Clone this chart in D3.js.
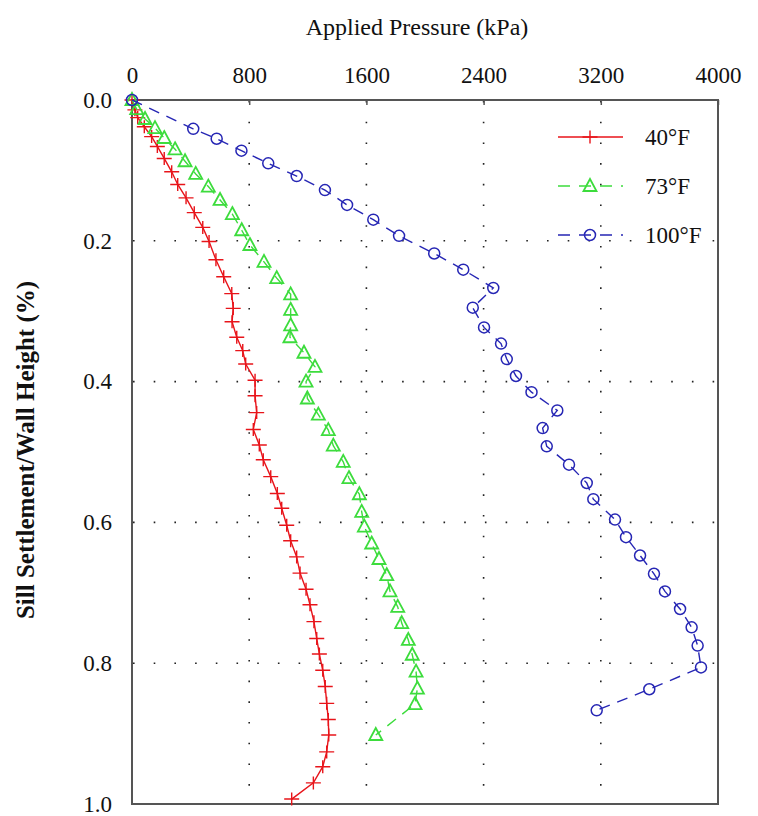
<!DOCTYPE html>
<html><head><meta charset="utf-8">
<script src="https://cdn.jsdelivr.net/npm/d3@7"></script>
<style>body{margin:0;background:#fff}svg{display:block}text{font-family:"Liberation Serif","Times New Roman",serif}</style>
</head><body>
<script>
const xTicks = [0, 800, 1600, 2400, 3200, 4000];
const yTicks = [0.0, 0.2, 0.4, 0.6, 0.8, 1.0];
const seriesNames = ["40°F", "73°F", "100°F"];
const p40 = [0,20,39,84,134,173,220,271,312,369,425,483,526,573,626,681,691,683,715,756,776,840,840,851,828,869,896,947,992,1022,1056,1083,1124,1147,1188,1215,1242,1261,1279,1302,1319,1329,1340,1343,1329,1302,1238,1090];
const s40 = [0,0.014,0.025,0.038,0.052,0.066,0.083,0.102,0.120,0.139,0.160,0.181,0.201,0.227,0.251,0.275,0.296,0.315,0.337,0.356,0.375,0.398,0.420,0.444,0.468,0.490,0.511,0.535,0.559,0.580,0.604,0.626,0.649,0.672,0.695,0.717,0.741,0.765,0.787,0.810,0.833,0.857,0.880,0.902,0.926,0.947,0.970,0.993];
const p73 = [0,32,89,157,220,294,362,435,521,601,685,749,805,901,988,1083,1083,1083,1078,1174,1249,1188,1197,1272,1340,1374,1442,1481,1552,1568,1586,1636,1686,1739,1761,1814,1841,1886,1913,1939,1948,1932,1664];
const s73 = [0,0.013,0.027,0.040,0.054,0.070,0.087,0.105,0.123,0.142,0.162,0.185,0.206,0.230,0.253,0.276,0.298,0.320,0.337,0.359,0.379,0.400,0.424,0.447,0.469,0.491,0.514,0.537,0.560,0.585,0.606,0.630,0.652,0.675,0.698,0.720,0.743,0.767,0.788,0.812,0.836,0.858,0.902];
const p100 = [0,418,578,747,930,1124,1317,1468,1647,1823,2063,2261,2466,2326,2403,2519,2558,2621,2727,2903,2803,2831,2983,3104,3149,3297,3372,3468,3563,3638,3741,3820,3861,3884,3531,3172];
const s100 = [0,0.041,0.055,0.072,0.090,0.108,0.128,0.149,0.170,0.193,0.218,0.241,0.267,0.295,0.323,0.346,0.368,0.392,0.415,0.441,0.466,0.492,0.518,0.544,0.567,0.596,0.621,0.647,0.673,0.698,0.723,0.749,0.775,0.806,0.837,0.867];

const W = 758, H = 816;
const L = 132, R = 718, T = 100, B = 804;
const svg = d3.select("body").append("svg").attr("width", W).attr("height", H);
const x = d3.scaleLinear().domain([0, 4000]).range([L, R]);
const y = d3.scaleLinear().domain([0, 1]).range([T, B]);

// gridlines (dotted)
const grid = svg.append("g").attr("stroke", "#222").attr("stroke-width", 1.6).attr("stroke-dasharray", "1.6,19.1");
grid.selectAll("line.v").data(xTicks.slice(1, -1)).join("line")
  .attr("x1", d => x(d)).attr("x2", d => x(d)).attr("y1", T + 1).attr("y2", B);
grid.selectAll("line.h").data(yTicks.slice(1, -1)).join("line")
  .attr("y1", d => y(d)).attr("y2", d => y(d)).attr("x1", L + 1).attr("x2", R);

// axes
const topAxis = d3.axisTop(x).tickValues(xTicks).tickSize(-5).tickPadding(17).tickFormat(d3.format("d"));
const gx = svg.append("g").attr("transform", `translate(0,${T})`).call(topAxis);
gx.select(".domain").remove();
gx.selectAll("line").attr("stroke", "#555").attr("stroke-width", 1.5);
gx.selectAll("text").attr("font-size", 23).attr("fill", "#111").attr("font-family", "Liberation Serif");

const leftAxis = d3.axisLeft(y).tickValues(yTicks).tickSize(0).tickPadding(20).tickFormat(d3.format(".1f"));
const gy = svg.append("g").attr("transform", `translate(${L},0)`).call(leftAxis);
gy.select(".domain").remove();
gy.selectAll("text").attr("font-size", 23).attr("fill", "#111").attr("font-family", "Liberation Serif");

svg.append("rect").attr("x", L).attr("y", T).attr("width", R - L).attr("height", B - T)
  .attr("fill", "none").attr("stroke", "#555").attr("stroke-width", 2);

// titles
svg.append("text").attr("x", 417).attr("y", 35).attr("text-anchor", "middle").attr("font-size", 24).attr("fill", "#111").text("Applied Pressure (kPa)");
svg.append("text").attr("transform", "translate(34,450) rotate(-90)").attr("text-anchor", "middle")
  .attr("font-size", 25).attr("font-weight", "bold").attr("fill", "#111").text("Sill Settlement/Wall Height (%)");

const cfg = [
  {name: seriesNames[0], px: p40, sy: s40, color: "#e8141a", dash: null, marker: "plus"},
  {name: seriesNames[1], px: p73, sy: s73, color: "#3ddc3d", dash: "11,8", marker: "tri"},
  {name: seriesNames[2], px: p100, sy: s100, color: "#2626b4", dash: "11,8", marker: "circ"}
];

function drawMarker(g, type, cx, cy, color) {
  if (type === "plus") {
    g.append("path").attr("d", `M${cx-7.5},${cy}H${cx+7.5}M${cx},${cy-6.5}V${cy+6.5}`)
      .attr("stroke", color).attr("stroke-width", 1.4).attr("fill", "none");
  } else if (type === "tri") {
    g.append("path").attr("d", `M${cx},${cy-7}L${cx+6.5},${cy+5}L${cx-6.5},${cy+5}Z`)
      .attr("stroke", color).attr("stroke-width", 1.8).attr("fill", "none");
  } else {
    g.append("circle").attr("cx", cx).attr("cy", cy).attr("r", 5.5)
      .attr("stroke", color).attr("stroke-width", 1.5).attr("fill", "none");
  }
}

const line = d3.line().x(d => x(d[0])).y(d => y(d[1]));
cfg.forEach(s => {
  const pts = s.px.map((v, i) => [v, s.sy[i]]);
  const g = svg.append("g");
  g.append("path").datum(pts).attr("d", line).attr("fill", "none").attr("stroke", s.color)
    .attr("stroke-width", 1.4).attr("stroke-dasharray", s.dash);
  pts.forEach(p => drawMarker(g, s.marker, x(p[0]), y(p[1]), s.color));
});

// legend
const lg = svg.append("g");
cfg.forEach((s, i) => {
  const ly = 137 + i * 49;
  lg.append("line").attr("x1", 558).attr("x2", 623).attr("y1", ly).attr("y2", ly)
    .attr("stroke", s.color).attr("stroke-width", 1.4).attr("stroke-dasharray", s.dash ? "12,9" : null);
  drawMarker(lg, s.marker, 590, ly, s.color);
  lg.append("text").attr("x", 645).attr("y", ly + 8).attr("font-size", 23).attr("fill", "#111").text(s.name);
});
</script>
</body></html>
